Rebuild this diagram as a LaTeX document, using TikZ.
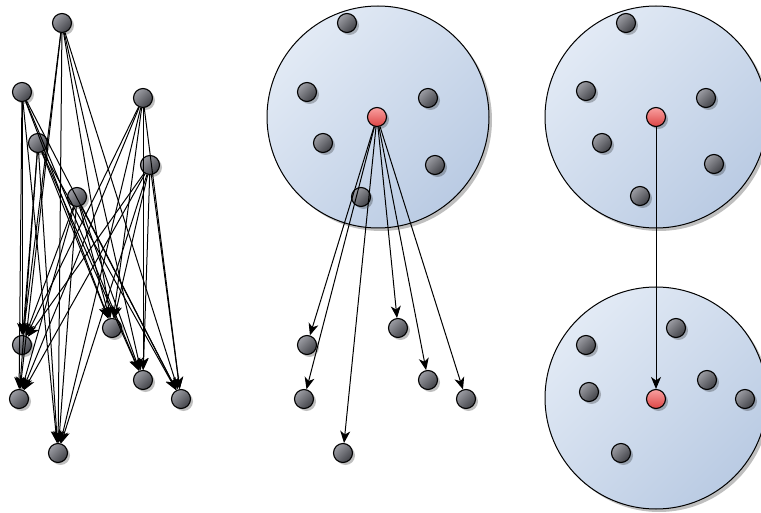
\documentclass[tikz,border=0pt]{standalone}
\usetikzlibrary{shadows,arrows.meta}
\definecolor{ballLight}{HTML}{9C9DA4}
\definecolor{ballDark}{HTML}{414247}
\definecolor{redLight}{HTML}{F9A0A0}
\definecolor{redDark}{HTML}{DC4444}
\definecolor{bigLight}{HTML}{E2EAF5}
\definecolor{bigDark}{HTML}{BACBE3}
\tikzset{
  ball/.style={circle, draw=black, line width=1.1pt, minimum size=19pt, inner sep=0pt,
    shading=axis, top color=ballLight, bottom color=ballDark, shading angle=45,
    drop shadow={shadow xshift=2.5pt, shadow yshift=-2.5pt, opacity=0.25, fill=black}},
  redball/.style={ball, top color=redLight, bottom color=redDark},
  big/.style={circle, draw=black, line width=1pt, minimum size=222pt, inner sep=0pt,
    shading=axis, top color=bigLight, bottom color=bigDark, shading angle=45,
    drop shadow={shadow xshift=3pt, shadow yshift=-3pt, opacity=0.25, fill=black}},
  arr/.style={draw=black, line width=1pt, -{Stealth[length=12pt,width=10pt,inset=3.5pt]}}
}
\begin{document}
\begin{tikzpicture}[x=1pt,y=-1pt]
\useasboundingbox (0,0) rectangle (761,513);
% big circles
\node[big] (C1) at (378,117) {};
\node[big] (C2) at (656,117) {};
\node[big] (C3) at (656,398) {};
% left panel
\node[ball] (A) at (62,23) {};
\node[ball] (B) at (22,92) {};
\node[ball] (C) at (143,98) {};
\node[ball] (D) at (38,143) {};
\node[ball] (E) at (150,165) {};
\node[ball] (F) at (77,197) {};
\node[ball] (G) at (22,345) {};
\node[ball] (H) at (112,328) {};
\node[ball] (I) at (19,399) {};
\node[ball] (J) at (143,380) {};
\node[ball] (K) at (181,399) {};
\node[ball] (L) at (58,453) {};
\foreach \t in {A,B,C,D,E,F}{
  \foreach \b in {G,H,I,J,K,L}{
    \draw[arr] (\t) -- (\b);
  }
}
% middle panel
\node[ball] (mA) at (347,23) {};
\node[ball] (mB) at (307,92) {};
\node[ball] (mC) at (428,98) {};
\node[ball] (mD) at (323,143) {};
\node[ball] (mE) at (435,165) {};
\node[ball] (mF) at (361,197) {};
\node[redball] (mR) at (377,117) {};
\node[ball] (mG) at (307,345) {};
\node[ball] (mH) at (398,328) {};
\node[ball] (mI) at (304,399) {};
\node[ball] (mJ) at (428,380) {};
\node[ball] (mK) at (466,399) {};
\node[ball] (mL) at (343,453) {};
\foreach \b in {mG,mH,mI,mJ,mK,mL}{
  \draw[arr] (mR) -- (\b);
}
% right panel top
\node[ball] (rA) at (626,23) {};
\node[ball] (rB) at (586,91) {};
\node[ball] (rC) at (706,98) {};
\node[ball] (rD) at (602,143) {};
\node[ball] (rE) at (714,164) {};
\node[ball] (rF) at (640,196) {};
\node[redball] (rR) at (656,117) {};
% right panel bottom
\node[ball] (sH) at (676,328) {};
\node[ball] (sG) at (586,345) {};
\node[ball] (sI) at (589,392) {};
\node[ball] (sJ) at (707,380) {};
\node[ball] (sK) at (745,399) {};
\node[ball] (sL) at (621,453) {};
\node[redball] (sR) at (656,399) {};
\draw[arr] (rR) -- (sR);
\end{tikzpicture}
\end{document}
